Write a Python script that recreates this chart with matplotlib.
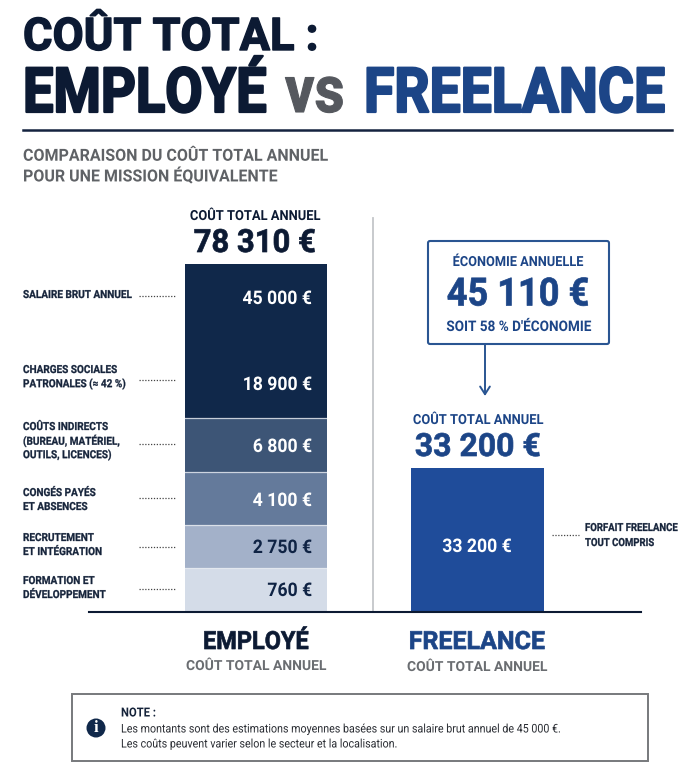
import numpy as np
import matplotlib
matplotlib.use('Agg')
import matplotlib.pyplot as plt
import matplotlib.patheffects as pe
from matplotlib.patches import FancyBboxPatch, Circle, Rectangle
from matplotlib.transforms import Affine2D

plt.rcParams['font.family'] = ['Roboto', 'DejaVu Sans']

# data
poste_labels = ['SALAIRE BRUT ANNUEL', 'CHARGES SOCIALES\nPATRONALES (≈ 42 %)',
                'COÛTS INDIRECTS\n(BUREAU, MATÉRIEL,\nOUTILS, LICENCES)',
                'CONGÉS PAYÉS\nET ABSENCES', 'RECRUTEMENT\nET INTÉGRATION',
                'FORMATION ET\nDÉVELOPPEMENT']
poste_values = [45000, 18900, 6800, 4100, 2750, 760]
poste_colors = ['#10284a', '#10284a', '#3d5576', '#647a9b', '#a3b1c9', '#d4dce8']
poste_text = ['white', 'white', 'white', 'white', '#0f2344', '#0f2344']
employe_total = 78310
freelance_total = 33200
economie = 45110
economie_pct = 58

DARK = '#0c1a33'
BLUE = '#1c4587'
BAR_BLUE = '#1f4c9a'
GREY = '#5f6266'


def euro(v):
    return f'{v:,}'.replace(',', ' ') + ' €'


# the reference font is narrower than Roboto: reshape the glyphs around the anchor
class Reshape(pe.AbstractPathEffect):
    def __init__(self, x0, y0, sx, sy, fat=0):
        super().__init__()
        self.x0, self.y0, self.sx, self.sy, self.fat = x0, y0, sx, sy, fat

    def draw_path(self, renderer, gc, tpath, affine, rgbFace=None):
        aff = affine + Affine2D().translate(-self.x0, -self.y0).scale(self.sx, self.sy).translate(self.x0, self.y0)
        gc0 = renderer.new_gc()
        gc0.copy_properties(gc)
        if self.fat:
            gc0.set_linewidth(self.fat)
            gc0.set_foreground(rgbFace)
        renderer.draw_path(gc0, tpath, aff, rgbFace)
        gc0.restore()


fig = plt.figure(figsize=(7, 7.68), dpi=100, facecolor='white')

# overlay in pixels for all the text
ax = fig.add_axes([0, 0, 1, 1])
ax.set_xlim(0, 700)
ax.set_ylim(768, 0)
ax.axis('off')
ax.set_zorder(10)


def T(x, y, s, size, color=DARK, ha='left', bold=True, fat=0, sx=1.0, sy=1.0, va='center'):
    t = ax.text(x, y, s, fontsize=size, color=color, ha=ha, va=va,
                fontweight='bold' if bold else 'normal', zorder=5)
    t.set_path_effects([Reshape(x, 768 - y, sx, sy, fat)])
    return t


def bar_axes(left, right, top, bottom):
    a = fig.add_axes([left / 700, 1 - bottom / 768, (right - left) / 700, (bottom - top) / 768])
    a.axis('off')
    return a


# employé stack, the reference does not draw it to a linear scale
seg_px = [111, 43, 54, 53, 43, 43]
stack = np.cumsum([0] + poste_values[::-1])
px = np.cumsum([0] + seg_px[::-1])
ax_emp = bar_axes(185, 327, 264, 611)
ax_emp.set_yscale('function', functions=(lambda v: np.interp(v, stack, px),
                                         lambda p: np.interp(p, px, stack)))
ax_emp.set_ylim(0, employe_total)
ax_emp.set_xlim(0, 1)
bottom = 0
for val, col in zip(poste_values[::-1], poste_colors[::-1]):
    ax_emp.bar(0.5, val, width=1, bottom=bottom, color=col, edgecolor='none')
    bottom += val
for b in stack[1:5]:
    ax_emp.axhline(b, color='#e8ecf2', lw=0.9, alpha=0.8)

# freelance bar
ax_fr = bar_axes(411, 544, 468, 611)
ax_fr.set_ylim(0, freelance_total)
ax_fr.set_xlim(0, 1)
ax_fr.bar(0.5, freelance_total, width=1, color=BAR_BLUE)

# title
T(23, 50, 'COÛT TOTAL :', 32.5, fat=1.0, va='baseline')
T(23, 112, 'EMPLOYÉ', 39, fat=1.6, sy=1.15, va='baseline')
T(285, 112, 'vs', 42, color='#55585e', fat=0.8, sy=1.12, va='baseline')
T(364, 112, 'FREELANCE', 39, color=BLUE, fat=1.6, sx=1.02, sy=1.15, va='baseline')
ax.plot([23, 672], [129.5, 129.5], color='#14233f', lw=1.8)
T(23, 156, 'COMPARAISON DU COÛT TOTAL ANNUEL', 12, color=GREY, sx=0.96)
T(23, 176, 'POUR UNE MISSION ÉQUIVALENTE', 12, color=GREY, sx=0.96)

# left labels
label_y = [295, 377, 441, 500, 545, 588]
leader_y = [296, 380, 444, 498, 547, 589]
value_y = [299, 385, 447, 501, 548, 591]
for lab, ly, dy, vy, val, tc in zip(poste_labels, label_y, leader_y, value_y, poste_values, poste_text):
    lines = lab.split('\n')
    for i, line in enumerate(lines):
        T(23, ly + 14 * (i - (len(lines) - 1) / 2), line, 8, color='#15233a', sx=0.9, fat=0.2)
    ax.plot([139, 175], [dy, dy], color='#444444', lw=0.9, ls=(0, (1, 1.3)))
    T(312, vy, euro(val), 13.5, color=tc, ha='right', sx=0.94)

T(255, 216, 'COÛT TOTAL ANNUEL', 10, ha='center', sx=0.93)
T(255, 243, euro(employe_total), 23, ha='center', fat=0.5, sx=0.97)

# divider + baseline
ax.plot([373, 373], [218, 611], color='#c4c6c9', lw=1.3)
ax.plot([89, 641], [612, 612], color='#0c1a33', lw=1.5, zorder=6)

# callout
ax.add_patch(FancyBboxPatch((428, 241), 181, 103, boxstyle='round,pad=0,rounding_size=2',
                            fc='white', ec='#2a5592', lw=1.5))
T(518, 262, 'ÉCONOMIE ANNUELLE', 10, color=BLUE, ha='center', sx=0.92)
T(518, 295, euro(economie), 28, color=BLUE, ha='center', fat=0.5, sx=0.93)
T(519, 327, f"SOIT {economie_pct} % D'ÉCONOMIE", 10.5, color=BLUE, ha='center', sx=0.93)
ax.annotate('', xy=(485, 396), xytext=(485, 344),
            arrowprops=dict(arrowstyle='->,head_width=0.35,head_length=0.55', color='#2a5592', lw=1.4,
                            shrinkA=0, shrinkB=0))

T(478, 420, 'COÛT TOTAL ANNUEL', 10, color=BLUE, ha='center', sx=0.93)
T(478, 447, euro(freelance_total), 23, color=BLUE, ha='center', fat=0.5)
T(477, 547, euro(freelance_total), 13.5, color='white', ha='center', sx=0.94)

ax.plot([552, 579], [535, 535], color='#444444', lw=0.9, ls=(0, (1, 1.3)))
T(585, 528, 'FORFAIT FREELANCE', 8, color='#15233a', sx=0.86, fat=0.2)
T(585, 543, 'TOUT COMPRIS', 8, color='#15233a', sx=0.86, fat=0.2)

# column names
T(256, 642, 'EMPLOYÉ', 18, ha='center', fat=0.5, sx=0.94)
T(256, 666, 'COÛT TOTAL ANNUEL', 10, color='#6a6d71', ha='center')
T(477, 642, 'FREELANCE', 18, color=BLUE, ha='center', fat=0.5)
T(477, 667, 'COÛT TOTAL ANNUEL', 10, color='#6a6d71', ha='center')

# note
ax.add_patch(Rectangle((72, 694), 576, 67, fc='white', ec='#77797c', lw=1.4))
ax.add_patch(Circle((96, 728), 9.5, fc='#10284a', ec='none', zorder=4))
ax.text(96, 728, 'i', color='white', fontsize=12, fontweight='bold', family='Liberation Serif',
        ha='center', va='center', zorder=5)
T(121, 713, 'NOTE :', 9, color='#15233a', sx=0.9)
T(121, 729, 'Les montants sont des estimations moyennes basées sur un salaire brut annuel de 45 000 €.',
  8.6, color='#2a2d33', bold=False, sx=0.895)
T(121, 744, 'Les coûts peuvent varier selon le secteur et la localisation.', 8.6, color='#2a2d33', bold=False, sx=0.895)

fig.savefig('out.png', dpi=100)
